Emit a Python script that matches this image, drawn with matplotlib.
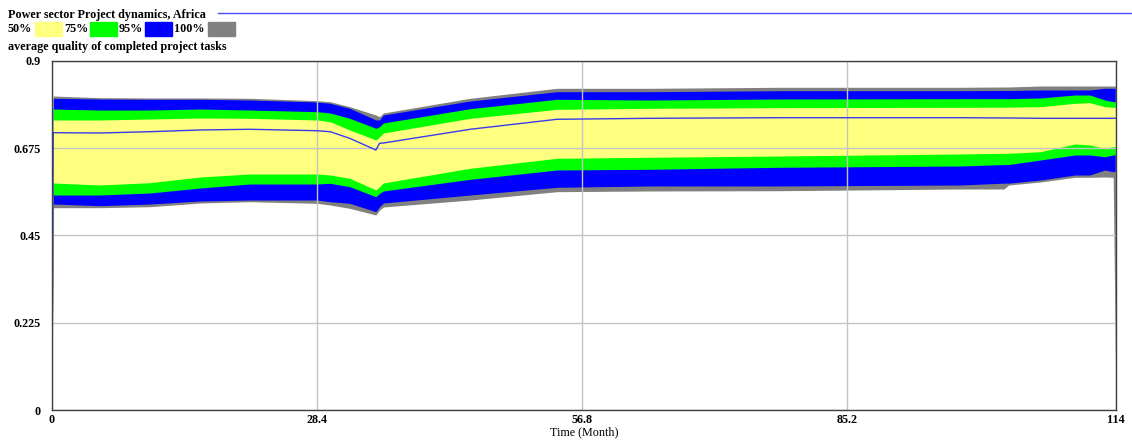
import numpy as np
import matplotlib
matplotlib.use('Agg')
import matplotlib.pyplot as plt
from matplotlib.patches import Rectangle

plt.rcParams['font.family'] = ['Liberation Serif', 'DejaVu Serif']
plt.rcParams['font.weight'] = 'bold'

# simulation output: confidence bands of average quality, by month
months = [0, 0.125, 5.1, 10.5, 15.9, 21.2, 28.4, 29.8, 31.9, 34.7, 35.1, 35.5,
          44.8, 54.1, 64.1, 78.0, 97.3, 102.0, 102.5, 105.9, 109.6, 111.2,
          112.8, 113.7, 114.0]
p100_hi = [0, .8097, .8054, .8046, .8046, .8038, .7976, .7950, .7822, .7607, .7564, .7659,
           .8038, .8296, .8296, .8322, .8322, .8330, .8330, .8355, .8355, .8355,
           .8355, .8355, .8355]
p95_hi = [0, .8038, .8020, .8012, .8012, .7994, .7943, .7909, .7780, .7479, .7479, .7607,
          .7968, .8208, .8208, .8234, .8234, .8240, .8240, .8252, .8252, .8252,
          .8296, .8296, .8296]
p75_hi = [0, .7762, .7736, .7736, .7762, .7736, .7693, .7659, .7522, .7264, .7306, .7401,
          .7770, .8012, .7994, .8020, .8028, .8028, .8028, .8046, .8123, .8123,
          .7994, .7950, .7950]
p50_hi = [0, .7479, .7479, .7504, .7530, .7522, .7479, .7435, .7221, .6963, .7048, .7143,
          .7522, .7754, .7780, .7796, .7806, .7810, .7810, .7822, .7909, .7925,
          .7822, .7806, .7806]
mean_q = [0, .7151, .7143, .7177, .7221, .7239, .7202, .7177, .7006, .6705, .6878, .6885,
          .7239, .7497, .7522, .7538, .7538, .7530, .7530, .7522, .7522, .7522,
          .7522, .7522, .7522]
p50_lo = [0, .5854, .5802, .5862, .6009, .6086, .6086, .6060, .5975, .5673, .5758, .5854,
          .6233, .6491, .6517, .6550, .6602, .6620, .6620, .6661, .6860, .6834,
          .6749, .6790, .6790]
p75_lo = [0, .5544, .5544, .5596, .5725, .5828, .5828, .5846, .5758, .5501, .5588, .5648,
          .5949, .6189, .6207, .6259, .6292, .6330, .6330, .6447, .6576, .6576,
          .6532, .6576, .6576]
p95_lo = [0, .5312, .5269, .5312, .5390, .5415, .5415, .5372, .5330, .5114, .5243, .5338,
          .5544, .5743, .5777, .5777, .5802, .5850, .5850, .5931, .6060, .6060,
          .6189, .6146, .6146]
p100_lo = [0, .5217, .5217, .5243, .5338, .5372, .5330, .5286, .5201, .5029, .5158, .5235,
           .5415, .5630, .5648, .5655, .5699, .5699, .5802, .5880, .6001, .6001,
           .6009, .6001, 0]

xticks = [0, 28.4, 56.8, 85.2, 114]
xtick_labels = ['0', '28.4', '56.8', '85.2', '114']
yticks = [0, 0.225, 0.45, 0.675, 0.9]
ytick_labels = ['0', '0.225', '0.45', '0.675', '0.9']

c_50 = '#ffff80'
c_75 = '#00ff00'
c_95 = '#0000ff'
c_100 = '#808080'

W, H = 1132, 440
fs = 8.7
fig = plt.figure(figsize=(W / 100, H / 100), dpi=100)
ax = fig.add_axes([52 / W, 1 - 410 / H, (1116 - 52) / W, (410 - 61) / H])

t = np.array(months)
ax.fill_between(t, p100_lo, p100_hi, color=c_100, lw=0)
ax.fill_between(t, p95_lo, p95_hi, color=c_95, lw=0)
ax.fill_between(t, p75_lo, p75_hi, color=c_75, lw=0)
ax.fill_between(t, p50_lo, p50_hi, color=c_50, lw=0)
ax.plot(t, mean_q, color='#3a3aee', lw=1, zorder=3)

ax.set_xlim(0, 114)
ax.set_ylim(0, 0.9)
ax.set_xticks(xticks)
ax.set_xticklabels(xtick_labels)
ax.set_yticks(yticks)
ax.set_yticklabels(ytick_labels)
ax.tick_params(length=0, labelsize=fs)
ax.tick_params(axis='x', pad=3)
ax.tick_params(axis='y', pad=8)
ax.grid(True, color='#c4c4c4', lw=1, zorder=4)
ax.set_axisbelow(False)
for s in ax.spines.values():
    s.set_color('#404040')
    s.set_linewidth(1)
    s.set_zorder(5)
ax.set_xlabel('Time (Month)', fontsize=fs, labelpad=0)

# legend block above the axes
fig.text(8 / W, 1 - 15 / H, 'Power sector Project dynamics, Africa', fontsize=fs,
         va='center', ha='left')
fig.add_artist(plt.Line2D([218 / W, 1], [1 - 13 / H, 1 - 13 / H],
                          color='#4a4aff', lw=1, transform=fig.transFigure))
legend_items = [('50%', 8, 35, c_50), ('75%', 64, 90, c_75),
                ('95%', 119, 145, c_95), ('100%', 174, 208, c_100)]
for label, tx, bx, col in legend_items:
    fig.text(tx / W, 1 - 29 / H, label, fontsize=fs, va='center', ha='left')
    fig.add_artist(Rectangle((bx / W, 1 - 36 / H), 27 / W, 14 / H, color=col,
                             transform=fig.transFigure))
fig.text(8 / W, 1 - 47 / H, 'average quality of completed project tasks', fontsize=fs,
         va='center', ha='left')

fig.savefig('out.png', dpi=100)
